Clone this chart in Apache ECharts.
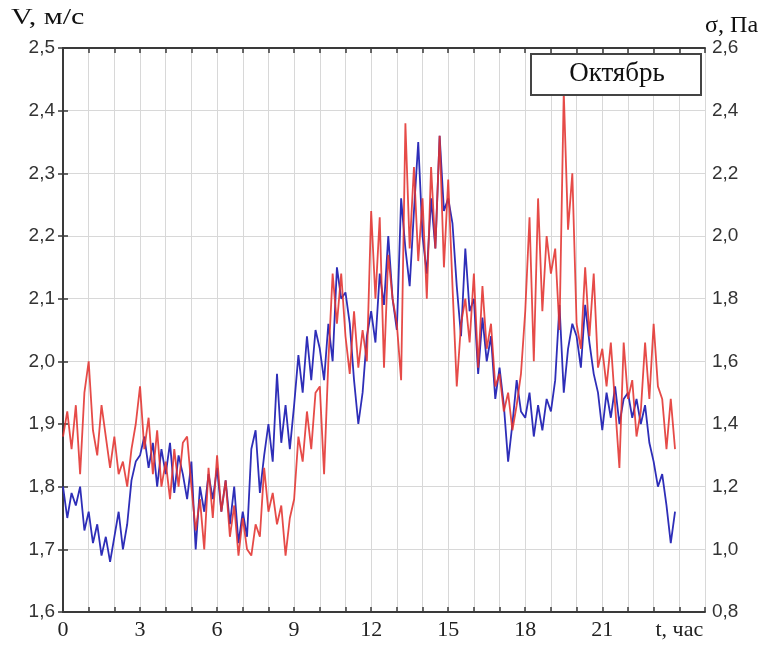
<!DOCTYPE html>
<html>
<head>
<meta charset="utf-8">
<script src="https://cdn.jsdelivr.net/npm/echarts@6/dist/echarts.min.js"></script>
<style>html,body{margin:0;padding:0;background:#fff}#c{width:772px;height:647px}</style>
</head>
<body>
<div id="c"></div>
<script>
// Samples every 10 minutes (6 per hour), starting at t = 0 h
const stepHours = 1 / 6;
const xTickLabels = { 0: '0', 3: '3', 6: '6', 9: '9', 12: '12', 15: '15', 18: '18', 21: '21', 24: 't, час' };
const leftTitle = 'V, м/с';
const rightTitle = 'σ, Па';
const legendText = 'Октябрь';

// Wind speed V, m/s (left axis, blue)
const speedV = [
  1.80, 1.75, 1.79, 1.77, 1.80, 1.73,
  1.76, 1.71, 1.74, 1.69, 1.72, 1.68,
  1.72, 1.76, 1.70, 1.74, 1.81, 1.84,
  1.85, 1.88, 1.83, 1.87, 1.80, 1.86,
  1.82, 1.87, 1.79, 1.85, 1.82, 1.78,
  1.84, 1.70, 1.80, 1.76, 1.82, 1.78,
  1.83, 1.76, 1.81, 1.74, 1.80, 1.71,
  1.76, 1.72, 1.86, 1.89, 1.79, 1.85,
  1.90, 1.84, 1.98, 1.87, 1.93, 1.86,
  1.93, 2.01, 1.95, 2.04, 1.97, 2.05,
  2.02, 1.97, 2.06, 2.00, 2.15, 2.10,
  2.11, 2.06, 1.97, 1.90, 1.95, 2.04,
  2.08, 2.03, 2.14, 2.09, 2.20, 2.10,
  2.05, 2.26, 2.18, 2.12, 2.24, 2.35,
  2.20, 2.14, 2.26, 2.18, 2.36, 2.24,
  2.26, 2.22, 2.12, 2.04, 2.18, 2.08,
  2.10, 1.98, 2.07, 2.00, 2.04, 1.94,
  1.99, 1.93, 1.84, 1.90, 1.97, 1.92,
  1.91, 1.95, 1.88, 1.93, 1.89, 1.94,
  1.92, 1.97, 2.09, 1.95, 2.02, 2.06,
  2.04, 1.99, 2.09, 2.03, 1.98, 1.95,
  1.89, 1.95, 1.91, 1.96, 1.90, 1.94,
  1.95, 1.91, 1.94, 1.90, 1.93, 1.87,
  1.84, 1.80, 1.82, 1.77, 1.71, 1.76
];

// Shear stress sigma, Pa (right axis, red)
const stressSigma = [
  1.36, 1.44, 1.32, 1.46, 1.24, 1.50,
  1.60, 1.38, 1.30, 1.46, 1.36, 1.26,
  1.36, 1.24, 1.28, 1.20, 1.32, 1.40,
  1.52, 1.32, 1.42, 1.24, 1.38, 1.20,
  1.28, 1.16, 1.32, 1.20, 1.34, 1.36,
  1.20, 1.06, 1.16, 1.00, 1.26, 1.10,
  1.30, 1.12, 1.22, 1.04, 1.14, 0.98,
  1.10, 1.00, 0.98, 1.08, 1.04, 1.26,
  1.12, 1.18, 1.08, 1.14, 0.98, 1.10,
  1.16, 1.36, 1.28, 1.44, 1.32, 1.50,
  1.52, 1.24, 1.60, 1.88, 1.72, 1.88,
  1.68, 1.56, 1.76, 1.58, 1.70, 1.60,
  2.08, 1.80, 2.06, 1.58, 1.94, 1.80,
  1.72, 1.54, 2.36, 1.96, 2.22, 1.92,
  2.12, 1.80, 2.22, 1.96, 2.32, 1.90,
  2.18, 1.84, 1.52, 1.72, 1.80, 1.66,
  1.88, 1.58, 1.84, 1.64, 1.72, 1.52,
  1.56, 1.44, 1.50, 1.38, 1.46, 1.56,
  1.76, 2.06, 1.60, 2.12, 1.76, 2.00,
  1.88, 1.96, 1.70, 2.46, 2.02, 2.20,
  1.72, 1.64, 1.90, 1.68, 1.88, 1.58,
  1.64, 1.52, 1.66, 1.46, 1.26, 1.66,
  1.48, 1.54, 1.36, 1.44, 1.66, 1.48,
  1.72, 1.52, 1.48, 1.32, 1.48, 1.32
];

const blueData = speedV.map((v, i) => [i * stepHours, v]);
const redData = stressSigma.map((v, i) => [i * stepHours, v]);

const fmt1 = v => v.toFixed(1).replace('.', ',');

const chart = echarts.init(document.getElementById('c'));
const axisColor = '#3a3a3a';
chart.setOption({
  animation: false,
  backgroundColor: '#fff',
  grid: { left: 63, right: 67, top: 48, bottom: 35 },
  xAxis: [{
    type: 'value', min: 0, max: 25, interval: 1, position: 'bottom',
    axisLine: { lineStyle: { color: axisColor, width: 2 } },
    axisTick: { inside: true, length: 5, lineStyle: { color: axisColor, width: 1.5 } },
    splitLine: { show: true, lineStyle: { color: '#d8d8d8', width: 1 } },
    axisLabel: {
      margin: 7, color: '#222', fontFamily: 'Liberation Serif', fontSize: 22,
      formatter: v => (xTickLabels[v] !== undefined ? xTickLabels[v] : '')
    }
  }, {
    type: 'value', min: 0, max: 25, interval: 1, position: 'top',
    axisLine: { show: true, lineStyle: { color: axisColor, width: 2 } },
    axisTick: { show: true, inside: true, length: 5, lineStyle: { color: axisColor, width: 1.5 } },
    splitLine: { show: false },
    axisLabel: { show: false }
  }],
  yAxis: [{
    type: 'value', min: 1.6, max: 2.5, interval: 0.1, position: 'left',
    axisLine: { show: true, lineStyle: { color: axisColor, width: 2 } },
    axisTick: { show: true, inside: true, length: 5, lineStyle: { color: axisColor, width: 1.5 } },
    splitLine: { show: true, lineStyle: { color: '#d8d8d8', width: 1 } },
    axisLabel: { margin: 8, color: '#333', fontFamily: 'Liberation Sans', fontSize: 19, formatter: fmt1 }
  }, {
    type: 'value', min: 0.8, max: 2.6, interval: 0.2, position: 'right',
    axisLine: { show: true, lineStyle: { color: axisColor, width: 2 } },
    axisTick: { show: true, inside: true, length: 5, lineStyle: { color: axisColor, width: 1.5 } },
    splitLine: { show: false },
    axisLabel: { margin: 7, color: '#333', fontFamily: 'Liberation Sans', fontSize: 19, formatter: fmt1 }
  }],
  series: [{
    name: 'V', type: 'line', xAxisIndex: 0, yAxisIndex: 0, data: blueData,
    showSymbol: false, lineStyle: { color: '#2e2eb8', width: 1.8 }, z: 2
  }, {
    name: 'σ', type: 'line', xAxisIndex: 0, yAxisIndex: 1, data: redData,
    showSymbol: false, lineStyle: { color: '#e2322f', width: 1.8, opacity: 0.88 }, z: 3
  }],
  graphic: [
    { type: 'text', x: 11, y: 6, scaleX: 1.25, style: { text: leftTitle, font: '24px "Liberation Serif"', fill: '#111' } },
    { type: 'text', x: 705, y: 14, scaleX: 1.05, style: { text: rightTitle, font: '23px "Liberation Serif"', fill: '#111' } },
    { type: 'rect', shape: { x: 531, y: 54, width: 170, height: 41 }, style: { fill: '#fff', stroke: '#444', lineWidth: 2 }, z: 10 },
    { type: 'text', x: 617, y: 74, style: { text: legendText, font: '27px "Liberation Serif"', fill: '#111', align: 'center', verticalAlign: 'middle' }, z: 11 }
  ]
});
</script>
</body>
</html>
